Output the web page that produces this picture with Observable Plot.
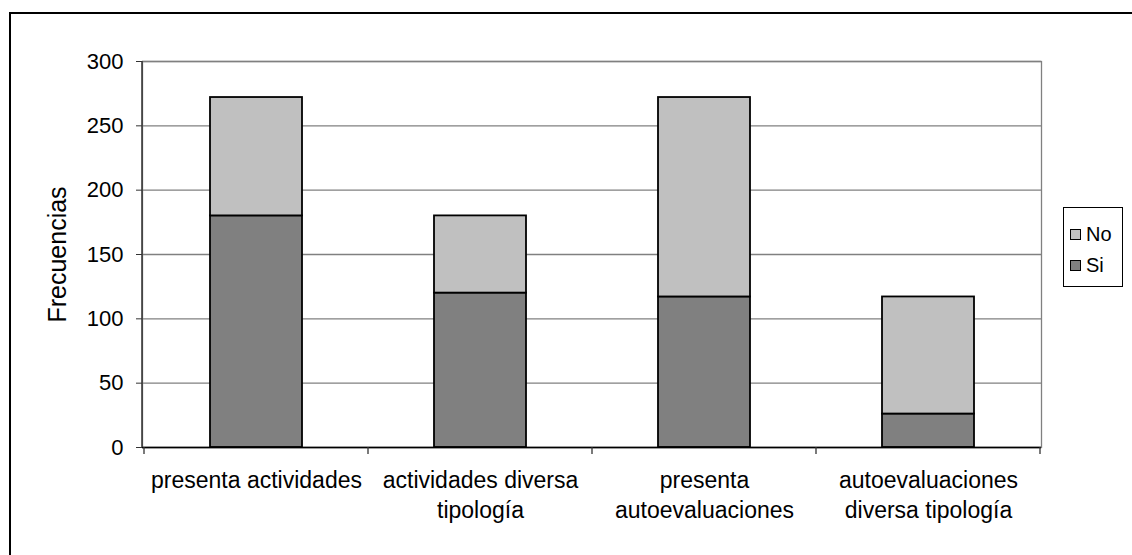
<!DOCTYPE html>
<html><head><meta charset="utf-8">
<script src="https://cdn.jsdelivr.net/npm/d3@7"></script>
<script src="https://cdn.jsdelivr.net/npm/@observablehq/plot@0.6"></script>
<style>
body{margin:0;overflow:hidden;background:#fff;font-family:"Liberation Sans",Arial,sans-serif}
#wrap{position:relative;width:1132px;height:555px;overflow:hidden}
#frame{position:absolute;left:9px;top:12px;width:1300px;height:800px;border:2px solid #000;box-sizing:border-box;pointer-events:none}
#legend{position:absolute;left:1063px;top:207px;width:60px;height:80px;border:1px solid #000;box-sizing:border-box;background:#fff;font-size:20px;line-height:20px}
.item{position:absolute;left:6px;display:flex;align-items:center}
.sw{width:9px;height:9px;border:1px solid #000;margin-right:5px}
</style></head>
<body><div id="wrap"><div id="frame"></div></div>
<script>
const categories = ["presenta actividades","actividades diversa tipología","presenta autoevaluaciones","autoevaluaciones diversa tipología"];
const tickLabels = ["presenta actividades","actividades diversa\ntipología","presenta\nautoevaluaciones","autoevaluaciones\ndiversa tipología"];
const seriesNames = ["Si","No"];
const siValues = [180,120,117,26];
const noValues = [92,60,155,91];
const yTicks = [0,50,100,150,200,250,300];
const seriesColors = ["#808080","#c0c0c0"];

const data = [];
categories.forEach((c,i)=>data.push({cat:c, series:"Si", value:siValues[i]}));
categories.forEach((c,i)=>data.push({cat:c, series:"No", value:noValues[i]}));

const ns = "http://www.w3.org/2000/svg";
function boundaryTicks(index, scales, values, dim){
  const g = document.createElementNS(ns,"g");
  const bw = scales.x.bandwidth ? scales.x.bandwidth() : 0;
  const y0 = dim.height - dim.marginBottom;
  const xs = [];
  categories.forEach(c=>xs.push(scales.x(c)));
  xs.push(scales.x(categories[categories.length-1]) + bw);
  xs.forEach(x=>{
    const l = document.createElementNS(ns,"line");
    l.setAttribute("x1",x);l.setAttribute("x2",x);
    l.setAttribute("y1",y0);l.setAttribute("y2",y0+7);
    l.setAttribute("stroke","#333");l.setAttribute("stroke-width","1.3");
    g.appendChild(l);
  });
  const ax = document.createElementNS(ns,"line");
  ax.setAttribute("x1",dim.marginLeft);ax.setAttribute("x2",dim.marginLeft);
  ax.setAttribute("y1",dim.marginTop);ax.setAttribute("y2",y0);
  ax.setAttribute("stroke","#333");ax.setAttribute("stroke-width","1.5");
  g.appendChild(ax);
  return g;
}

const chart = Plot.plot({
  width:1132, height:555,
  marginLeft:142, marginRight:91, marginTop:61, marginBottom:108,
  style:{fontFamily:'"Liberation Sans",Arial,sans-serif', fontSize:"22px", color:"#000", background:"transparent"},
  x:{domain:categories, padding:0, label:null},
  y:{domain:[0,300], label:null},
  color:{domain:seriesNames, range:seriesColors},
  marks:[
    Plot.gridY(yTicks,{stroke:"#808080", strokeOpacity:1, strokeWidth:1.3}),
    Plot.frame({stroke:"#808080", strokeWidth:1.3}),
    Plot.barY(data,{x:"cat", y:"value", fill:"series", z:"series", stroke:"#000", strokeWidth:1.8, insetLeft:66, insetRight:66}),
    Plot.ruleY([0],{stroke:"#000", strokeWidth:1.5}),
    boundaryTicks,
    Plot.axisY(yTicks,{tickSize:6, tickPadding:13, stroke:"#333", fontSize:22, label:null}),
    Plot.axisX({tickSize:0, tickPadding:19, fontSize:23, lineHeight:1.3, label:null, tickFormat:(d,i)=>tickLabels[categories.indexOf(d)]}),
    Plot.text(["Frecuencias"],{frameAnchor:"left", textAnchor:"middle", rotate:-90, dx:-85, fontSize:25, fill:"#000"})
  ]
});
document.getElementById("wrap").insertBefore(chart, document.getElementById("frame"));

const legend = document.createElement("div");
legend.id = "legend";
const legendOrder = ["No","Si"];
legendOrder.forEach((s,k)=>{
  const it = document.createElement("div");
  it.className = "item";
  it.style.top = (16 + k*31) + "px";
  const sw = document.createElement("div");
  sw.className = "sw";
  sw.style.background = seriesColors[seriesNames.indexOf(s)];
  const t = document.createElement("span");
  t.textContent = s;
  it.appendChild(sw); it.appendChild(t);
  legend.appendChild(it);
});
document.getElementById("wrap").appendChild(legend);
</script></body></html>
